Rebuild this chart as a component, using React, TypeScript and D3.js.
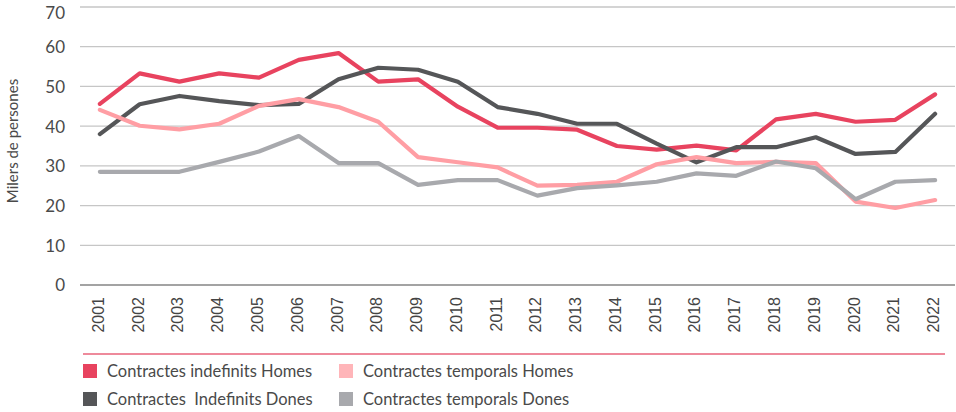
import React, { useEffect, useRef } from 'react';
import * as d3 from 'd3';

const years = ['2001', '2002', '2003', '2004', '2005', '2006', '2007', '2008', '2009', '2010', '2011',
  '2012', '2013', '2014', '2015', '2016', '2017', '2018', '2019', '2020', '2021', '2022'];

const indefHomes = [45.6, 53.3, 51.2, 53.3, 52.2, 56.7, 58.4, 51.2, 51.8, 44.9, 39.6,
  39.6, 39.1, 35.0, 34.1, 35.1, 33.9, 41.7, 43.1, 41.1, 41.6, 48.0];
const indefDones = [38.0, 45.5, 47.6, 46.3, 45.3, 45.6, 51.8, 54.7, 54.2, 51.2, 44.8,
  43.1, 40.6, 40.6, 35.6, 30.9, 34.7, 34.7, 37.2, 33.0, 33.5, 43.1];
const tempHomes = [44.1, 40.1, 39.2, 40.6, 45.1, 46.8, 44.8, 41.1, 32.2, 30.9, 29.6,
  25.0, 25.2, 26.0, 30.4, 32.2, 30.7, 31.0, 30.7, 21.0, 19.4, 21.4];
const tempDones = [28.5, 28.5, 28.5, 31.0, 33.6, 37.5, 30.7, 30.7, 25.2, 26.4, 26.4,
  22.5, 24.4, 25.1, 26.0, 28.1, 27.5, 31.1, 29.4, 21.6, 26.0, 26.4];

const yTicks = [0, 10, 20, 30, 40, 50, 60, 70];

const seriesNames = ['Contractes indefinits Homes', 'Contractes  Indefinits Dones',
  'Contractes temporals Homes', 'Contractes temporals Dones'];
const seriesColors = ['#e8435f', '#555658', '#ff9ea4', '#a8a9ad'];

const App = () => {
  const svgRef = useRef<SVGSVGElement>(null);

  useEffect(() => {
    const svg = d3.select(svgRef.current);
    svg.selectAll('*').remove();

    const width = 956;
    const height = 412;
    const left = 80;
    const right = 955;
    const top = 7;
    const bottom = 285;

    const x = d3.scaleBand().domain(years).range([left, right]);
    const y = d3.scaleLinear().domain([0, 70]).range([bottom, top]);

    svg.attr('width', width).attr('height', height);

    // gridlines
    svg.append('g')
      .selectAll('line')
      .data(yTicks.filter((d) => d > 0))
      .enter()
      .append('line')
      .attr('x1', left)
      .attr('x2', right)
      .attr('y1', (d) => y(d))
      .attr('y2', (d) => y(d))
      .attr('stroke', '#c6c6c6')
      .attr('stroke-width', 1.3);

    svg.append('line')
      .attr('x1', left).attr('x2', right)
      .attr('y1', bottom).attr('y2', bottom)
      .attr('stroke', '#a3a3a3')
      .attr('stroke-width', 2);

    // y tick labels (top one pushed down so it is not clipped)
    svg.append('g')
      .selectAll('text')
      .data(yTicks)
      .enter()
      .append('text')
      .attr('x', 65)
      .attr('y', (d) => Math.max(y(d), 13))
      .attr('dy', '0.38em')
      .attr('text-anchor', 'end')
      .attr('font-family', 'Lato, sans-serif')
      .attr('font-size', 17)
      .attr('fill', '#4a4a4a')
      .text((d) => d);

    svg.append('text')
      .attr('transform', `translate(18,141) rotate(-90)`)
      .attr('text-anchor', 'middle')
      .attr('font-family', 'Lato, sans-serif')
      .attr('font-size', 15)
      .attr('fill', '#4a4a4a')
      .text('Milers de persones');

    // x tick labels
    svg.append('g')
      .selectAll('text')
      .data(years)
      .enter()
      .append('text')
      .attr('transform', (d) => `translate(${(x(d) as number) + x.bandwidth() / 2 + 4},297) rotate(-90)`)
      .attr('text-anchor', 'end')
      .attr('font-family', '"Liberation Sans", Arial, sans-serif')
      .attr('font-size', 16)
      .attr('fill', '#444')
      .text((d) => d);

    // lines
    const line = d3.line<number>()
      .x((_, i) => (x(years[i]) as number) + x.bandwidth() / 2)
      .y((d) => y(d));

    const allSeries = [indefHomes, indefDones, tempHomes, tempDones];
    svg.append('g')
      .selectAll('path')
      .data(allSeries)
      .enter()
      .append('path')
      .attr('d', (d) => line(d))
      .attr('fill', 'none')
      .attr('stroke', (_, i) => seriesColors[i])
      .attr('stroke-width', 4.2)
      .attr('stroke-linejoin', 'round')
      .attr('stroke-linecap', 'round');

    // legend
    svg.append('line')
      .attr('x1', 83).attr('x2', 945)
      .attr('y1', 354).attr('y2', 354)
      .attr('stroke', '#e8637a')
      .attr('stroke-width', 1.3);

    const legend = svg.append('g')
      .selectAll('g')
      .data(seriesNames)
      .enter()
      .append('g')
      .attr('transform', (_, i) => {
        const col = i < 2 ? 0 : 1;
        const row = i % 2;
        return `translate(${col === 0 ? 83 : 339},${364 + row * 28})`;
      });

    legend.append('rect')
      .attr('width', 14)
      .attr('height', 14)
      .attr('fill', (_, i) => seriesColors[i] === '#ff9ea4' ? '#ffb5b9' : seriesColors[i]);

    legend.append('text')
      .attr('x', 24)
      .attr('y', 12.5)
      .attr('font-family', 'Lato, sans-serif')
      .attr('font-size', 16.5)
      .attr('fill', '#4a4a4a')
      .style('white-space', 'pre')
      .text((d) => d);
  }, []);

  return (
    <svg ref={svgRef} style={{ position: 'absolute', left: 0, top: 0 }}></svg>
  );
};

export default App;
